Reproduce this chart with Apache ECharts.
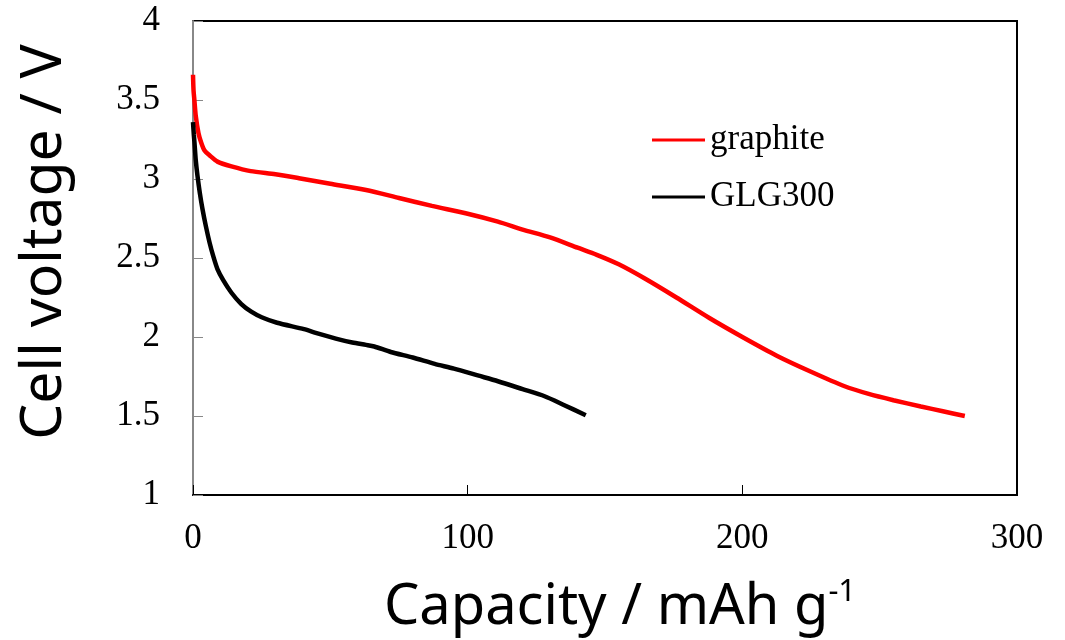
<!DOCTYPE html>
<html>
<head>
<meta charset="utf-8">
<script src="https://cdn.jsdelivr.net/npm/echarts@6/dist/echarts.min.js"></script>
<style>html,body{margin:0;padding:0;background:#fff;}#c{width:1065px;height:640px;}</style>
</head>
<body>
<div id="c"></div>
<script>
// Data (capacity mAh/g, cell voltage V)
const graphiteCap = [0,0.2,0.5,1,2,3,4.2,6,8.9,14,21,30,38.6,50,63,75,87,100,111,120,130,140,147,155,164.5,176,188,200,212.7,225,237,246,255,265,273,281];
const graphiteV   = [3.66,3.56,3.50,3.40,3.29,3.23,3.18,3.15,3.11,3.08,3.05,3.03,3.005,2.97,2.93,2.88,2.83,2.78,2.73,2.68,2.63,2.565,2.52,2.46,2.37,2.25,2.12,2.0,1.88,1.78,1.69,1.64,1.6,1.56,1.53,1.5];
const glgCap = [0,0.3,0.54,1,1.63,2.5,3.45,4.7,6,7.4,8.9,11,14,17.5,21.2,25,30.6,40.4,45,52,58,63,66,72,80,88,95,104,111,120,128,135,143];
const glgV   = [3.36,3.28,3.23,3.12,3.02,2.91,2.81,2.70,2.60,2.51,2.43,2.36,2.28,2.21,2.16,2.125,2.09,2.05,2.025,1.99,1.965,1.95,1.94,1.905,1.87,1.83,1.80,1.755,1.72,1.67,1.625,1.57,1.505];
const seriesNames = ['graphite','GLG300'];
const xTicks = [0,100,200,300];
const yTicks = ['1','1.5','2','2.5','3','3.5','4'];

const zip = (a,b)=>a.map((v,i)=>[v,b[i]]);
const serif = '"Liberation Serif","Times New Roman",serif';
const sans = '"Noto Sans","DejaVu Sans",sans-serif';

const chart = echarts.init(document.getElementById('c'), null, {renderer:'canvas'});
chart.setOption({
  animation:false,
  backgroundColor:'#fff',
  grid:{left:193, top:21, right:48, bottom:145, show:true, borderColor:'#000', borderWidth:2, backgroundColor:'transparent'},
  xAxis:{
    type:'value', min:0, max:300, interval:100,
    axisLine:{show:true, onZero:false, lineStyle:{color:'#000', width:2}},
    axisTick:{show:true, inside:true, length:10, lineStyle:{color:'#000', width:1}},
    axisLabel:{fontFamily:serif, fontSize:35, color:'#000', margin:26,
      formatter:v=>xTicks.includes(v)?String(v):''},
    splitLine:{show:false}
  },
  yAxis:{
    type:'value', min:1, max:4, interval:0.5,
    axisLine:{show:true, onZero:false, lineStyle:{color:'#888', width:2}},
    axisTick:{show:true, inside:true, length:10, lineStyle:{color:'#888', width:1}},
    axisLabel:{fontFamily:serif, fontSize:35, color:'#000', margin:33,
      formatter:v=>{const s=String(Math.round(v*10)/10); return yTicks.includes(s)?s:'';}},
    splitLine:{show:false}
  },
  legend:{
    orient:'vertical', left:647, top:115, itemWidth:53, itemHeight:3, itemGap:17,
    icon:'rect',
    data:seriesNames,
    textStyle:{fontFamily:serif, fontSize:35, color:'#000', lineHeight:40},
  },
  series:[
    {name:seriesNames[0], type:'line', showSymbol:false, symbol:'none', smooth:0.25,
     data:zip(graphiteCap, graphiteV), lineStyle:{color:'#ff0000', width:4.5}, itemStyle:{color:'#ff0000'}},
    {name:seriesNames[1], type:'line', showSymbol:false, symbol:'none', smooth:0.25,
     data:zip(glgCap, glgV), lineStyle:{color:'#000', width:4.5}, itemStyle:{color:'#000'}}
  ],
  graphic:[
    {type:'text', x:620, y:608, style:{
      text:'{a|Capacity / mAh g}{b|-1}',
      align:'center', verticalAlign:'middle',
      rich:{a:{fontFamily:sans, fontSize:56, fill:'#000', lineHeight:62},
            b:{fontFamily:sans, fontSize:31, fill:'#000', verticalAlign:'top', lineHeight:62}}
    }},
    {type:'text', x:45, y:242, rotation:Math.PI/2, style:{
      text:'Cell voltage / V', align:'center', verticalAlign:'middle',
      fontFamily:sans, fontSize:57, fill:'#000'}}
  ]
});
</script>
</body>
</html>
